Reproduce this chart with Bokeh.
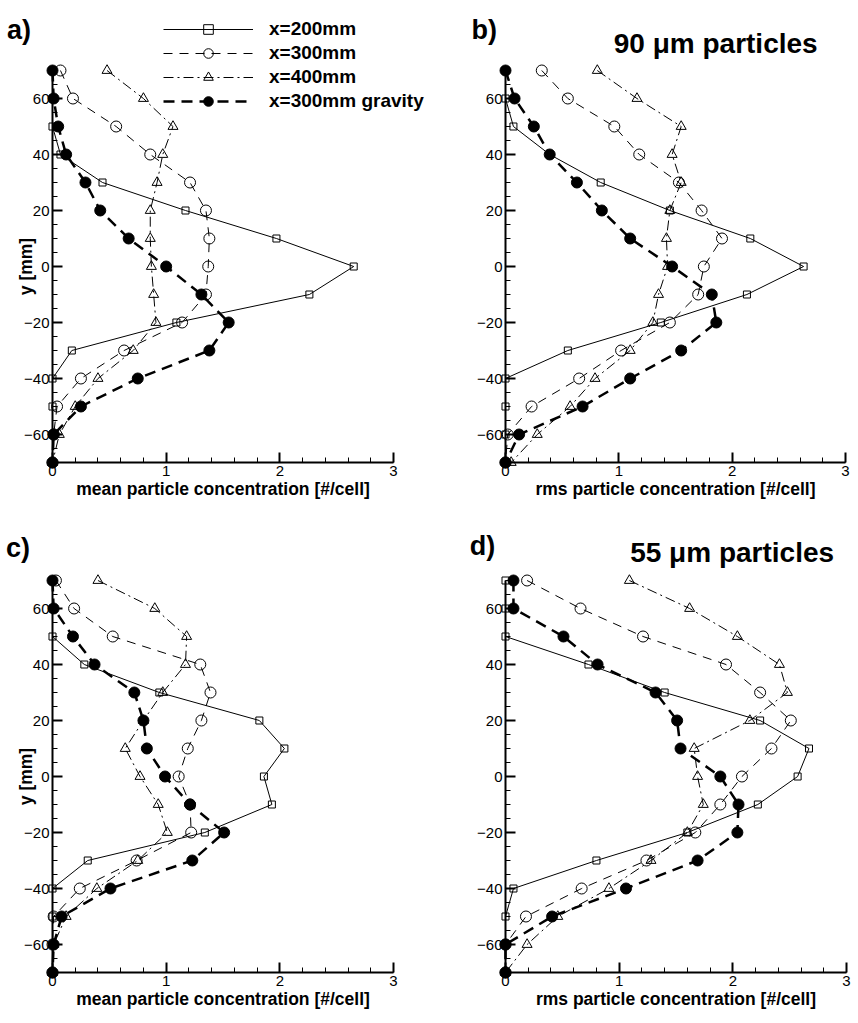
import math
from bokeh.plotting import figure
from bokeh.layouts import gridplot
from bokeh.models import FixedTicker, Legend, LegendItem, Range1d
from bokeh.core.properties import value
from bokeh.embed import file_html
from bokeh.resources import INLINE

FONT = "Liberation Sans"

# ---------------- data ----------------
y_mm = [70, 60, 50, 40, 30, 20, 10, 0, -10, -20, -30, -40, -50, -60, -70]
series_names = ["x=200mm", "x=300mm", "x=400mm", "x=300mm gravity"]

# a) mean, 90 um
a_x200 = [0, 0, 0, 0.07, 0.44, 1.17, 1.97, 2.65, 2.26, 1.09, 0.17, 0, 0, 0, 0]
a_x300 = [0.07, 0.18, 0.56, 0.86, 1.21, 1.35, 1.38, 1.37, 1.35, 1.14, 0.63, 0.25, 0.04, 0.01, 0]
a_x400 = [0.48, 0.80, 1.06, 0.97, 0.92, 0.86, 0.86, 0.87, 0.89, 0.91, 0.71, 0.40, 0.20, 0.06, 0]
a_grav = [0, 0.01, 0.05, 0.12, 0.29, 0.42, 0.67, 1.00, 1.31, 1.55, 1.38, 0.75, 0.25, 0.01, 0]

# b) rms, 90 um
b_x200 = [0, 0, 0.07, 0.39, 0.84, 1.45, 2.16, 2.63, 2.13, 1.37, 0.55, 0, 0, 0, 0]
b_x300 = [0.32, 0.55, 0.96, 1.18, 1.53, 1.73, 1.91, 1.75, 1.70, 1.45, 1.02, 0.65, 0.23, 0.02, 0]
b_x400 = [0.81, 1.16, 1.55, 1.47, 1.55, 1.45, 1.42, 1.43, 1.35, 1.30, 1.10, 0.79, 0.57, 0.28, 0.05]
b_grav = [0, 0.08, 0.25, 0.39, 0.63, 0.85, 1.10, 1.47, 1.82, 1.86, 1.55, 1.10, 0.68, 0.12, 0]

# c) mean, 55 um
c_x200 = [0, 0, 0, 0.28, 0.94, 1.82, 2.04, 1.86, 1.93, 1.34, 0.31, 0, 0, 0, 0]
c_x300 = [0.03, 0.19, 0.53, 1.30, 1.39, 1.31, 1.19, 1.11, 1.21, 1.22, 0.74, 0.24, 0.01, 0, 0]
c_x400 = [0.40, 0.90, 1.18, 1.17, 0.97, 0.80, 0.64, 0.77, 0.93, 1.01, 0.75, 0.39, 0.12, 0.01, 0]
c_grav = [0, 0.01, 0.18, 0.37, 0.72, 0.80, 0.83, 0.99, 1.21, 1.51, 1.23, 0.51, 0.08, 0.01, 0]

# d) rms, 55 um
d_x200 = [0, 0, 0, 0.73, 1.40, 2.24, 2.67, 2.57, 2.22, 1.60, 0.80, 0.07, 0, 0, 0]
d_x300 = [0.19, 0.66, 1.21, 1.94, 2.24, 2.51, 2.34, 2.08, 1.89, 1.67, 1.24, 0.67, 0.18, 0, 0]
d_x400 = [1.09, 1.62, 2.04, 2.41, 2.48, 2.15, 1.66, 1.69, 1.74, 1.60, 1.28, 0.91, 0.46, 0.19, 0]
d_grav = [0.07, 0.07, 0.51, 0.81, 1.32, 1.51, 1.54, 1.89, 2.05, 2.04, 1.69, 1.06, 0.41, 0, 0]

x_ticks = [0, 1, 2, 3]
x_minor = [0, 0.2, 0.4, 0.6, 0.8, 1, 1.2, 1.4, 1.6, 1.8, 2, 2.2, 2.4, 2.6, 2.8, 3]
y_ticks = [-60, -40, -20, 0, 20, 40, 60]
y_minor = [-70, -65, -60, -55, -50, -45, -40, -35, -30, -25, -20, -15, -10, -5, 0,
           5, 10, 15, 20, 25, 30, 35, 40, 45, 50, 55, 60, 65, 70]

STYLES = [
    dict(marker="square", size=7, fill=None, dash="solid", lw=1.0),
    dict(marker="circle", size=11, fill=None, dash="9 7", lw=1.0),
    dict(marker="triangle", size=10, fill=None, dash="10 4 2 4", lw=1.0),
    dict(marker="circle", size=11, fill="black", dash="11 7", lw=2.5),
]

PX_PER_UNIT_X = 341 / 3.0    # pixels per concentration unit
PX_PER_MM = 392 / 140.0      # pixels per mm


def add_text(p, x, y, txt, size, align="left", angle=0.0):
    p.text(x=[x], y=[y], text=[txt], text_font=value(FONT), text_font_size=size,
           text_font_style="bold", text_baseline="middle", text_align=align,
           angle=angle, text_color="black", level="overlay")


def make_panel(data, xlabel, ylabel, letter, letter_xy, subtitle, subtitle_xy,
               width, height, left, bottom, legend_loc=None):
    # The frame fills the panel up to its top and right edges; the axes are
    # bounded to the data ranges, so texts/legend above the axes are not clipped.
    x_end = (width - left) / PX_PER_UNIT_X
    y_end = -70 + (height - bottom) / PX_PER_MM
    p = figure(width=width, height=height, output_backend="svg", toolbar_location=None,
               x_range=Range1d(0, x_end), y_range=Range1d(-70, y_end))
    p.min_border_left = left
    p.min_border_bottom = bottom
    p.min_border_top = 0
    p.min_border_right = 0
    p.outline_line_color = None
    p.grid.visible = False
    p.background_fill_color = "white"
    p.border_fill_color = "white"

    p.xaxis.ticker = FixedTicker(ticks=x_ticks, minor_ticks=x_minor)
    p.yaxis.ticker = FixedTicker(ticks=y_ticks, minor_ticks=y_minor)
    p.xaxis.bounds = (0, 3)
    p.yaxis.bounds = (-70, 70)
    for ax in (p.xaxis[0], p.yaxis[0]):
        ax.axis_line_width = 2
        ax.axis_line_color = "black"
        ax.major_tick_in = 10
        ax.major_tick_out = 0
        ax.minor_tick_in = 5
        ax.minor_tick_out = 0
        ax.major_tick_line_width = 2
        ax.minor_tick_line_width = 1
        ax.major_tick_line_color = "black"
        ax.minor_tick_line_color = "black"
        ax.major_label_text_font = FONT
        ax.major_label_text_font_size = "15px"
        ax.major_label_text_color = "black"
        ax.major_label_standoff = 3

    # axis titles, centred on the bounded axes
    add_text(p, 1.5, -79.4, xlabel, "17.5px", align="center")
    if ylabel:
        add_text(p, -0.232, 0, ylabel, "17.5px", align="center", angle=math.pi / 2)

    items = []
    for name, xs, st in zip(series_names, data, STYLES):
        lr = p.line(xs, y_mm, line_color="black", line_width=st["lw"],
                    line_dash=st["dash"], level="overlay")
        sr = p.scatter(xs, y_mm, marker=st["marker"], size=st["size"],
                       line_color="black", line_width=1,
                       fill_color=st["fill"], fill_alpha=1 if st["fill"] else 0,
                       level="overlay")
        items.append(LegendItem(label=name, renderers=[lr, sr]))

    if legend_loc is not None:
        lg = Legend(items=items, location=legend_loc, orientation="vertical",
                    glyph_width=90, glyph_height=24, label_height=20, spacing=0,
                    padding=0, margin=0, label_standoff=16,
                    label_text_font=FONT, label_text_font_size="19px",
                    label_text_font_style="bold", label_text_color="black",
                    border_line_color=None, background_fill_alpha=0)
        p.add_layout(lg)

    add_text(p, letter_xy[0], letter_xy[1], letter, "27px")
    if subtitle:
        add_text(p, subtitle_xy[0], subtitle_xy[1], subtitle, "28px")
    return p


p1 = make_panel([a_x200, a_x300, a_x400, a_grav], "mean particle concentration [#/cell]",
                "y [mm]", "a)", (-0.40, 84.5), None, None,
                429, 510, 52, 48, legend_loc=(111, 349))
p2 = make_panel([b_x200, b_x300, b_x400, b_grav], "rms particle concentration [#/cell]",
                None, "b)", (-0.30, 84.5), "90 \u03bcm particles", (0.955, 79.5),
                429, 510, 75, 48)
p3 = make_panel([c_x200, c_x300, c_x400, c_grav], "mean particle concentration [#/cell]",
                "y [mm]", "c)", (-0.41, 81.5), None, None,
                429, 513, 52, 51)
p4 = make_panel([d_x200, d_x300, d_x400, d_grav], "rms particle concentration [#/cell]",
                None, "d)", (-0.315, 82.5), "55 \u03bcm particles", (1.097, 80.0),
                429, 513, 76, 51)

grid = gridplot([[p1, p2], [p3, p4]], toolbar_location=None)

with open("out.html", "w") as f:
    f.write(file_html(grid, INLINE))
